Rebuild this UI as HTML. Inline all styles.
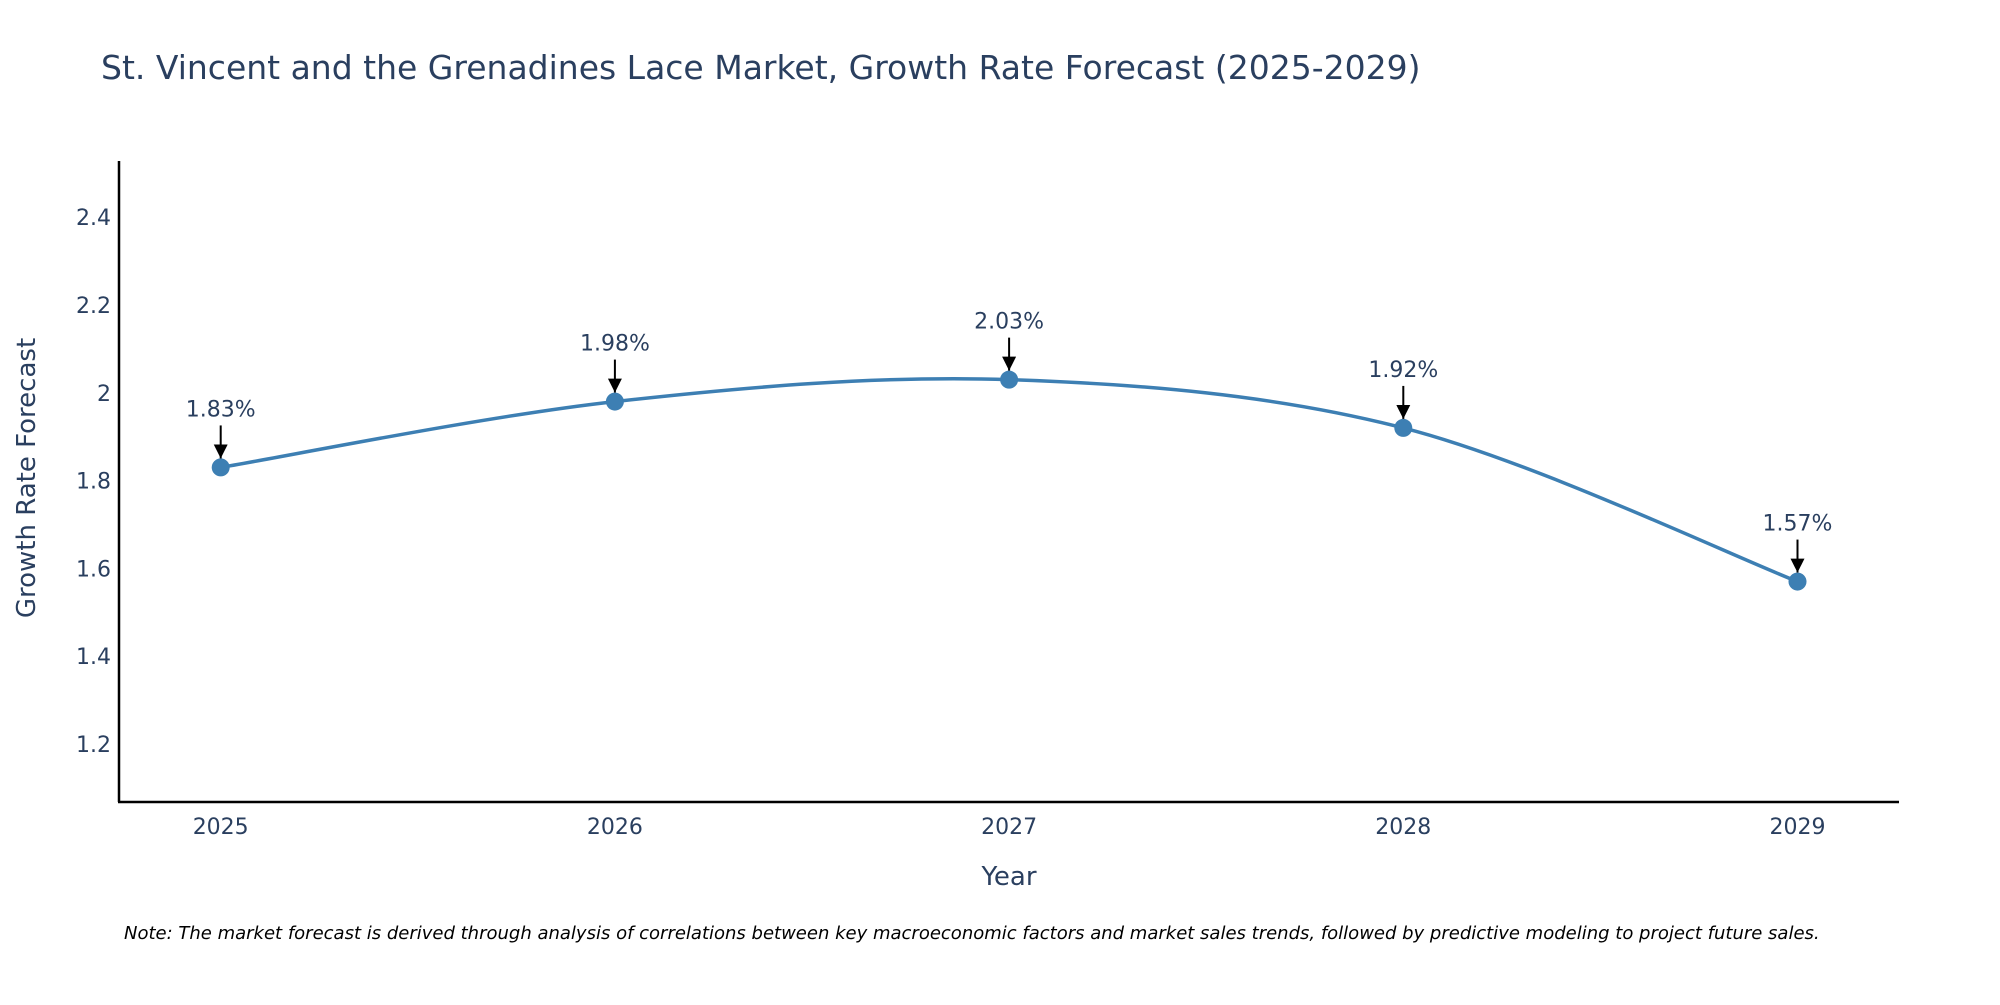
<!DOCTYPE html>
<html><head><meta charset="utf-8"><style>
body{margin:0;background:#fff;}
svg text{font-family:"DejaVu Sans","Liberation Sans",sans-serif;}
</style></head><body>
<svg width="2000" height="1000" xmlns="http://www.w3.org/2000/svg">
<defs><marker id="ah" viewBox="0 0 10 10" refX="10" refY="5" markerWidth="14" markerHeight="14" markerUnits="userSpaceOnUse" orient="auto"><path d="M0,0 L10,5 L0,10 Z" fill="#000"/></marker></defs>
<text x="101" y="79" font-size="33" fill="#2a3f5f">St. Vincent and the Grenadines Lace Market, Growth Rate Forecast (2025-2029)</text>
<g id="yticks"></g><g id="xticks"></g>
<line x1="119" y1="161" x2="119" y2="802" stroke="#000" stroke-width="2.5"/>
<line x1="118" y1="802" x2="1899" y2="802" stroke="#000" stroke-width="2.5"/>
<path id="line" fill="none" stroke="#3d7fb3" stroke-width="3.5"/>
<g id="pts"></g><g id="ann"></g>
<text x="26" y="478" font-size="26" fill="#2a3f5f" text-anchor="middle" transform="rotate(-90 26 478)" dy="9">Growth Rate Forecast</text>
<text x="1009" y="885" font-size="26" fill="#2a3f5f" text-anchor="middle">Year</text>
<text x="124" y="939" font-size="18" font-style="italic" fill="#000">Note: The market forecast is derived through analysis of correlations between key macroeconomic factors and market sales trends, followed by predictive modeling to project future sales.</text>
</svg>
<script>
const years=[2025,2026,2027,2028,2029];
const values=[1.83,1.98,2.03,1.92,1.57];
const labels=["1.83%","1.98%","2.03%","1.92%","1.57%"];
const yTicks=[1.2,1.4,1.6,1.8,2,2.2,2.4];
const NS="http://www.w3.org/2000/svg";
const X=v=>220.7+(v-2025)*394.2;
const Y=v=>744-(v-1.2)/0.2*87.8;
function mk(t,a,p){const e=document.createElementNS(NS,t);for(const k in a)e.setAttribute(k,a[k]);p.appendChild(e);return e;}
const yt=document.getElementById('yticks');
yTicks.forEach(v=>{const t=mk('text',{x:111,y:Y(v)+8,'font-size':22,fill:'#2a3f5f','text-anchor':'end'},yt);t.textContent=String(v);

});
const xt=document.getElementById('xticks');
years.forEach(v=>{const t=mk('text',{x:X(v),y:834,'font-size':22,fill:'#2a3f5f','text-anchor':'middle'},xt);t.textContent=String(v);

});
const P=years.map((y,i)=>[X(y),Y(values[i])]);
let d='M'+P[0][0]+','+P[0][1];const s=0.33;
for(let i=0;i<P.length-1;i++){const p0=P[i-1]||P[i],p1=P[i],p2=P[i+1],p3=P[i+2]||P[i+1];
const c1=[p1[0]+(p2[0]-p0[0])*s/2,p1[1]+(p2[1]-p0[1])*s/2];
const c2=[p2[0]-(p3[0]-p1[0])*s/2,p2[1]-(p3[1]-p1[1])*s/2];
d+=` C${c1[0]},${c1[1]} ${c2[0]},${c2[1]} ${p2[0]},${p2[1]}`;}
document.getElementById('line').setAttribute('d',d);
const pg=document.getElementById('pts'),ag=document.getElementById('ann');
P.forEach((p,i)=>{const c=mk('circle',{cx:p[0],cy:p[1],r:9,fill:'#3d7fb3'},pg);


const l=mk('line',{x1:p[0],y1:p[1]-42,x2:p[0],y2:p[1]-9,stroke:'#000','stroke-width':2,'marker-end':'url(#ah)'},ag);


const t=mk('text',{x:p[0],y:p[1]-51,'font-size':22,fill:'#2a3f5f','text-anchor':'middle'},ag);t.textContent=labels[i];

});
</script>
</body></html>
